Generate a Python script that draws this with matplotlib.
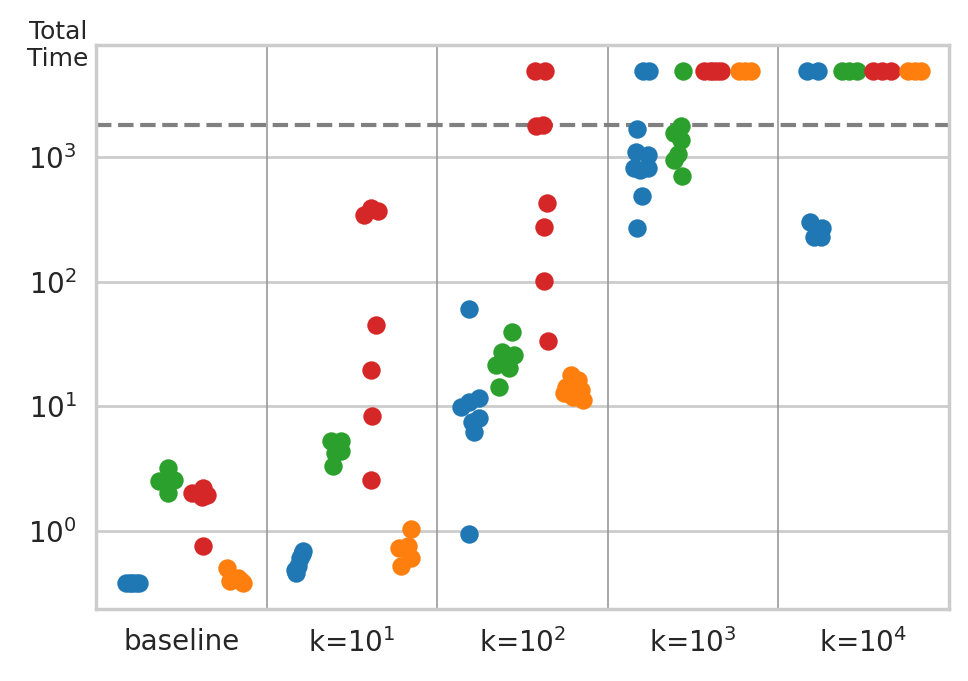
import matplotlib
matplotlib.use("Agg")
import matplotlib.pyplot as plt
import numpy as np

# categories on the x axis
categories = ["baseline", "k=$10^1$", "k=$10^2$", "k=$10^3$", "k=$10^4$"]

# total time per run, one list per category, for each of the four series
blue_times = [
    [0.384, 0.384, 0.38, 0.384, 0.384],
    [0.687, 0.608, 0.461, 0.521, 0.65, 0.49],
    [61, 9.9, 10.9, 11.6, 8.0, 7.5, 6.25, 0.95],
    [4950, 4950, 1670, 1100, 1035, 813, 813, 785, 486, 269],
    [4950, 4950, 300, 269, 228, 228],
]
green_times = [
    [3.21, 2.50, 2.58, 2.43, 2.02],
    [5.24, 5.24, 4.36, 4.23, 3.30],
    [39.7, 27.4, 25.8, 24.5, 21.4, 20.2, 14.4],
    [4950, 1780, 1550, 1380, 1070, 945, 705],
    [4950, 4950, 4950],
]
red_times = [
    [2.02, 2.2, 1.95, 1.88, 0.76],
    [345, 393, 371, 45.2, 19.7, 8.42, 2.58],
    [4950, 4950, 1770, 1800, 430, 276, 101, 33.4],
    [4950, 4950, 4950, 4950, 4950],
    [4950, 4950, 4950],
]
orange_times = [
    [0.505, 0.395, 0.395, 0.42, 0.384],
    [1.04, 0.73, 0.754, 0.608, 0.521],
    [17.8, 16.2, 14.3, 13.5, 12.8, 11.9, 11.2],
    [4950, 4950, 4950],
    [4950, 4950, 4950],
]

timeout = 1800

# horizontal jitter of each point (fraction of a category)
blue_jitter = [
    [-0.023, 0.0, 0.012, 0.035, 0.053],
    [0.012, -0.006, -0.029, -0.018, 0.006, -0.035],
    [-0.012, -0.059, -0.012, 0.047, 0.047, 0.006, 0.018, -0.012],
    [0.006, 0.041, -0.029, -0.035, 0.035, -0.047, 0.035, -0.012, 0.0, -0.029],
    [-0.029, 0.035, -0.012, 0.059, 0.012, 0.053],
]
green_jitter = [
    [0.023, -0.035, 0.053, 0.023, 0.023],
    [-0.023, 0.035, 0.035, 0.0, -0.012],
    [0.041, -0.018, 0.053, 0.023, -0.053, 0.023, -0.035],
    [0.041, 0.029, -0.012, 0.029, 0.012, -0.012, 0.035],
    [-0.023, 0.018, 0.064],
]
red_jitter = [
    [-0.041, 0.023, 0.047, 0.018, 0.023],
    [-0.029, 0.012, 0.053, 0.041, 0.012, 0.018, 0.012],
    [-0.029, 0.035, -0.023, 0.018, 0.041, 0.029, 0.029, 0.047],
    [-0.035, 0.0, 0.018, 0.041, 0.064],
    [-0.041, 0.012, 0.059],
]
orange_jitter = [
    [-0.035, -0.018, 0.047, 0.029, 0.059],
    [0.047, -0.023, 0.029, 0.047, -0.012],
    [-0.018, 0.023, -0.047, 0.041, -0.059, -0.006, 0.053],
    [-0.029, 0.041, 0.006],
    [-0.041, 0.0, 0.035],
]

series = [
    (blue_times, blue_jitter, "#1f77b4"),
    (green_times, green_jitter, "#2ca02c"),
    (red_times, red_jitter, "#d62728"),
    (orange_times, orange_jitter, "#ff7f0e"),
]

plt.rcParams["font.family"] = "DejaVu Sans"
plt.rcParams["font.size"] = 10
plt.rcParams["text.color"] = "#262626"
plt.rcParams["axes.labelcolor"] = "#262626"
plt.rcParams["xtick.color"] = "#262626"
plt.rcParams["ytick.color"] = "#262626"

fig = plt.figure(figsize=(4.84, 3.405), dpi=200)
ax = fig.add_axes([0.0995, 0.106, 0.8805, 0.828])

# dodge offsets of the four series within a category
n_hue = len(series)
dodge_width = 0.8 / n_hue
offsets = [-0.4 + dodge_width * (i + 0.5) for i in range(n_hue)]

for h, (times, jitter, color) in enumerate(series):
    for c in range(len(categories)):
        vals = np.array(times[c])
        x = c + offsets[h] + np.array(jitter[c])
        ax.scatter(x, vals, s=44, color=color, linewidths=0, zorder=3)

ax.set_yscale("log")
ax.set_ylim(10 ** -0.6247, 10 ** 3.9006)
ax.set_xlim(-0.5, len(categories) - 0.5)

ax.set_xticks(range(len(categories)))
ax.set_xticklabels(categories)
ax.set_yticks([1, 10, 100, 1000])
ax.yaxis.set_minor_locator(matplotlib.ticker.NullLocator())
ax.tick_params(axis="both", length=0, pad=7, labelsize=10)

# style like a white grid
ax.yaxis.grid(True, color="#cccccc", lw=1.0, zorder=0)
ax.xaxis.grid(False)
ax.set_axisbelow(True)
for sp in ax.spines.values():
    sp.set_color("#cccccc")
    sp.set_linewidth(1.25)

# separators between categories
for c in range(len(categories) - 1):
    ax.axvline(c + 0.5, color="#999999", lw=0.6, zorder=1)

# timeout line
ax.axhline(timeout, color="#808080", ls="--", lw=1.5, zorder=2)

ax.set_ylabel("Total\nTime", rotation=0, fontsize=9, ha="right",
              va="center", multialignment="center")
ax.yaxis.set_label_coords(-0.009, 0.999)

fig.savefig("out.png", dpi=200)
